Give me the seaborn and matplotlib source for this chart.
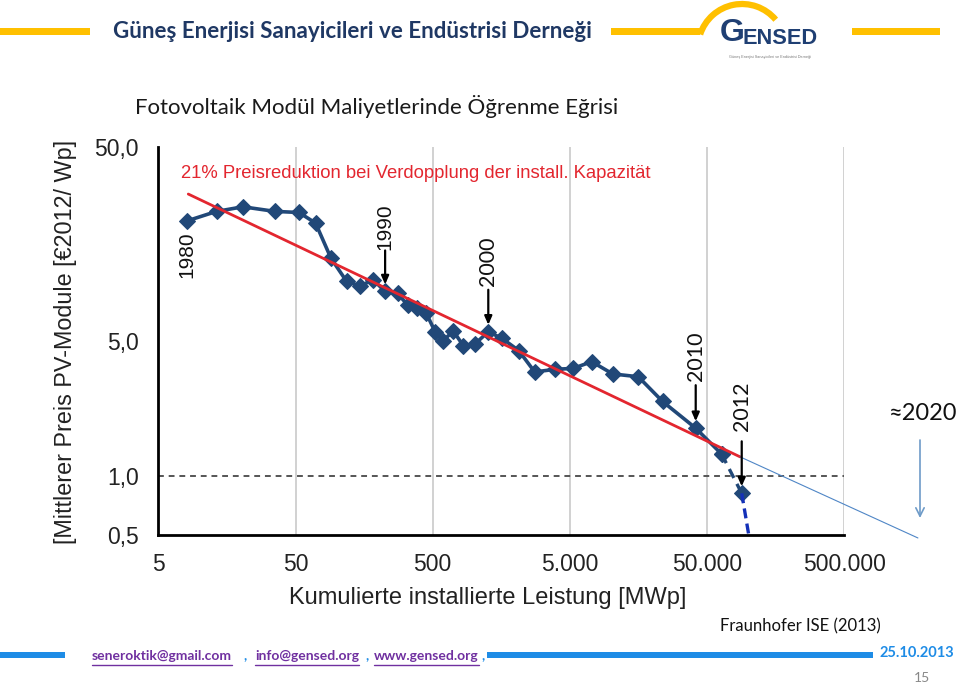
import numpy as np
import pandas as pd
import matplotlib
matplotlib.use("Agg")
import matplotlib.pyplot as plt
import seaborn as sns
from matplotlib.patches import Arc, Rectangle
from matplotlib.lines import Line2D

# ---------------- data ----------------
years = list(range(1980, 2013))
capacity_mwp = [8.05, 13.3, 20.7, 35.4, 53, 70, 90.7, 118, 148, 184,
                225, 277, 328, 384, 447, 520, 597, 707, 836, 1016,
                1271, 1600, 2117, 2770, 3891, 5296, 7210, 10255, 15760, 23700,
                41300, 63900, 89400]
price_eur_wp = [20.7, 23.2, 24.5, 23.2, 22.9, 20.2, 13.3, 10.1, 9.57, 10.3,
                8.97, 8.77, 7.64, 7.37, 6.97, 5.57, 5.01, 5.61, 4.71, 4.81,
                5.56, 5.14, 4.45, 3.45, 3.56, 3.60, 3.90, 3.37, 3.26, 2.43,
                1.77, 1.30, 0.817]
fit_x = [8.27, 86900]
fit_y = [28.5, 1.26]
ext_x = [86900, 1.72e6]
ext_y = [1.26, 0.481]
drop_x = [89400, 101000]
drop_y = [0.817, 0.49]
parity_x = [5, 500000]
parity_y = [1.0, 1.0]

x_ticks = [5, 50, 500, 5000, 50000, 500000]
x_ticklabels = ["5", "50", "500", "5.000", "50.000", "500.000"]
y_ticks = [0.5, 1.0, 5.0, 50.0]
y_ticklabels = ["0,5", "1,0", "5,0", "50,0"]
marked_years = [1990, 2000, 2010, 2012]

# ---------------- style ----------------
sns.set_style("white")
plt.rcParams["font.family"] = ["Liberation Sans", "DejaVu Sans"]

W, H = 959, 683
fig = plt.figure(figsize=(W / 100, H / 100), dpi=100)
fig.patch.set_facecolor("white")

def fx(px):
    return px / W

def fy(py):
    return 1 - py / H

ax_l, ax_r, ax_t, ax_b = 158.3, 844.3, 146.7, 534.7
ax = fig.add_axes([fx(ax_l), fy(ax_b), (ax_r - ax_l) / W, (ax_b - ax_t) / H])

navy = "#214878"
red = "#E3262F"
df = pd.DataFrame({"year": years, "cap": capacity_mwp, "price": price_eur_wp})

# parity dashed line
sns.lineplot(x=parity_x, y=parity_y, ax=ax, color="#555555", lw=1.4,
             linestyle=(0, (3, 2.5)), zorder=2)
# main curve
sns.lineplot(data=df[df.year <= 2011], x="cap", y="price", ax=ax, sort=False,
             color=navy, lw=2.6, marker="D", markersize=8, markeredgecolor=navy,
             zorder=4)
sns.lineplot(data=df[df.year >= 2011], x="cap", y="price", ax=ax, sort=False,
             color=navy, lw=2.4, linestyle=(0, (3, 2)), marker="D", markersize=8,
             markeredgecolor=navy, zorder=4)
sns.lineplot(x=drop_x, y=drop_y, ax=ax, color="#1431B8", lw=2.4,
             linestyle=(0, (3, 1.6)), zorder=4, clip_on=False)
# learning-curve fit
sns.lineplot(x=fit_x, y=fit_y, ax=ax, color=red, lw=2.0, zorder=5)
sns.lineplot(x=ext_x, y=ext_y, ax=ax, color="#4F86C6", lw=0.8, zorder=5,
             clip_on=False)

ax.set_xscale("log")
ax.set_yscale("log")
ax.set_xlim(5, 500000)
ax.set_ylim(0.5, 50)

ax.set_xticks(x_ticks)
ax.set_xticklabels(x_ticklabels)
ax.set_xticks([m * k for m in [5, 50, 500, 5000, 50000] for k in range(2, 10)],
              minor=True)
ax.set_yticks(y_ticks)
ax.set_yticklabels(y_ticklabels)
ax.set_yticks([m * k for m in [0.5, 5] for k in range(2, 10) if m * k != 1.0],
              minor=True)
ax.xaxis.set_minor_formatter(matplotlib.ticker.NullFormatter())
ax.yaxis.set_minor_formatter(matplotlib.ticker.NullFormatter())
ax.tick_params(which="major", length=8, width=1.6, color="black",
               labelsize=16.5, pad=5, direction="out")
ax.tick_params(which="minor", length=6, width=1.6, color="black", direction="out")
ax.tick_params(axis="y", which="major", pad=6)
for t in ax.get_xticklabels() + ax.get_yticklabels():
    t.set_color("#222222")

for s in ["top", "right"]:
    ax.spines[s].set_visible(False)
for s in ["left", "bottom"]:
    ax.spines[s].set_linewidth(2)
    ax.spines[s].set_color("black")
ax.xaxis.grid(True, which="major", color="#c9c9c9", lw=1.2)
ax.yaxis.grid(False)
ax.set_xlabel("")
ax.set_ylabel("")
if ax.get_legend():
    ax.get_legend().remove()

# year annotations: (arrow tail offset px, text centre offset px)
ann_layout = {1990: (41, 65), 2000: (42, 71), 2010: (43, 72), 2012: (52, 87)}
for yr in marked_years:
    i = years.index(yr)
    xv, yv = capacity_mwp[i], price_eur_wp[i]
    tail, tc = ann_layout[yr]
    fam = ["Liberation Sans"] if yr < 2000 else ["Lato", "DejaVu Sans"]
    fs = 15 if yr < 2000 else 15.5
    ax.annotate("", xy=(xv, yv), xytext=(0, tail), textcoords="offset pixels",
                arrowprops=dict(arrowstyle="-|>,head_length=0.5,head_width=0.22",
                                color="black", lw=1.6, shrinkA=0, shrinkB=5),
                zorder=6)
    ax.annotate(str(yr), xy=(xv, yv), xytext=(0, tc), textcoords="offset pixels",
                rotation=90, ha="center", va="center", fontsize=fs,
                family=fam, color="#111111")
ax.annotate("1980", xy=(capacity_mwp[0], price_eur_wp[0]), xytext=(0, -34),
            textcoords="offset pixels", rotation=90, ha="center", va="center",
            fontsize=15, color="#111111")

# chart texts
fig.text(fx(416), fy(174), "21% Preisreduktion bei Verdopplung der install. Kapazität",
         color=red, fontsize=13.3, ha="center", va="center")
fig.text(fx(488), fy(598), "Kumulierte installierte Leistung [MWp]",
         fontsize=17, ha="center", va="center", color="#222222")
fig.text(fx(66), fy(342), "[Mittlerer Preis PV-Module [€2012/ Wp]",
         fontsize=16.8, rotation=90, ha="center", va="center", color="#222222")

# 2020 marker
fig.text(fx(923), fy(413), "≈2020", fontsize=17, ha="center", va="center",
         family=["Lato", "DejaVu Sans"], color="#111111")
ax.annotate("", xy=(920, H - 518), xycoords="figure pixels",
            xytext=(920, H - 440), textcoords="figure pixels",
            arrowprops=dict(arrowstyle="->,head_length=0.6,head_width=0.3",
                            color="#6E9BC8", lw=1.2, shrinkA=0, shrinkB=0))

# header
gold = "#FFC000"
def bar(x0, x1, yc, h, color):
    fig.add_artist(Rectangle((fx(x0), fy(yc + h / 2)), (x1 - x0) / W, h / H,
                             color=color, lw=0))

bar(0, 90, 31, 7, gold)
bar(611, 700, 31, 7, gold)
bar(852, 940, 31, 7, gold)
fig.text(fx(113), fy(31), "Güneş Enerjisi Sanayicileri ve Endüstrisi Derneği",
         family=["Lato", "DejaVu Sans"], fontsize=16.1, weight="bold",
         color="#1F3864", ha="left", va="center")
# logo
fig.add_artist(Arc((742 / 100, (H - 48) / 100), 88 / 100, 88 / 100,
                   theta1=40, theta2=162, transform=fig.dpi_scale_trans,
                   color=gold, lw=4.5))
fig.text(fx(720), fy(33), "G", family=["Liberation Sans"], weight="bold",
         fontsize=23, color="#1F3F73", ha="left", va="center")
fig.text(fx(742), fy(38), "ENSED", family=["Liberation Sans"], weight="bold",
         fontsize=15.7, color="#1F3F73", ha="left", va="center")
fig.text(fx(770), fy(57), "Güneş Enerjisi Sanayicileri ve Endüstrisi Derneği",
         fontsize=2.7, color="#777777", ha="center", va="center")

fig.text(fx(135), fy(106), "Fotovoltaik Modül Maliyetlerinde Öğrenme Eğrisi",
         family=["Lato", "DejaVu Sans"], fontsize=16, color="#1a1a1a",
         ha="left", va="center")

fig.text(fx(720), fy(626), "Fraunhofer ISE (2013)", family=["Lato", "DejaVu Sans"],
         fontsize=12, color="#111111", ha="left", va="center")

# footer
blue = "#1E8CE6"
bar(0, 65, 655, 6, blue)
bar(487, 873, 655, 6, blue)
purple = "#7030A0"
links = [("seneroktik@gmail.com", 92, True), (",", 243, False),
         ("info@gensed.org", 255, True), (",", 365, False),
         ("www.gensed.org", 374, True), (",", 481, False)]
fig.canvas.draw()
renderer = fig.canvas.get_renderer()
for txt, x0, ul in links:
    t = fig.text(fx(x0), fy(656), txt, family=["Lato", "DejaVu Sans"],
                 fontsize=10, weight="bold", color=purple if ul else "#1E8CE6",
                 ha="left", va="center")
    if ul:
        bb = t.get_window_extent(renderer=renderer)
        fig.add_artist(Line2D([bb.x0 / W, bb.x1 / W], [fy(665), fy(665)],
                              color=purple, lw=1))
fig.text(fx(880), fy(653), "25.10.2013", family=["Lato", "DejaVu Sans"],
         fontsize=10.5, weight="bold", color=blue, ha="left", va="center")
fig.text(fx(922), fy(678), "15", family=["Lato", "DejaVu Sans"],
         fontsize=10, color="#888888", ha="center", va="center")

fig.savefig("out.png", dpi=100)
